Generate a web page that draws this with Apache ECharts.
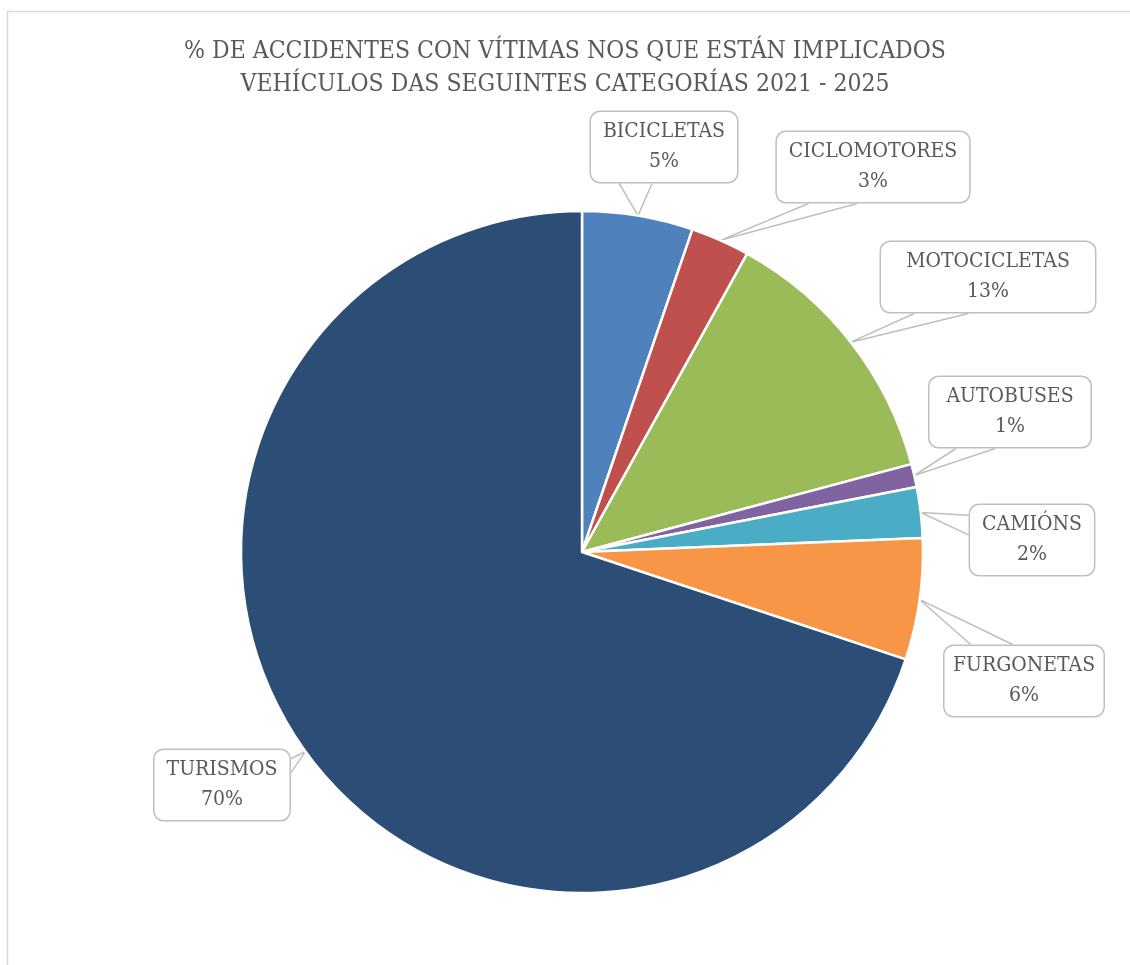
<!DOCTYPE html>
<html>
<head>
<meta charset="utf-8">
<script src="https://cdn.jsdelivr.net/npm/echarts@6/dist/echarts.min.js"></script>
<style>
html,body{margin:0;padding:0;background:#fff;}
#chart{width:1130px;height:965px;}
</style>
</head>
<body>
<div id="chart"></div>
<script>
const titleText = '% DE ACCIDENTES CON VÍTIMAS NOS QUE ESTÁN IMPLICADOS\nVEHÍCULOS DAS SEGUINTES CATEGORÍAS 2021 - 2025';
const categories = ['BICICLETAS', 'CICLOMOTORES', 'MOTOCICLETAS', 'AUTOBUSES', 'CAMIÓNS', 'FURGONETAS', 'TURISMOS'];
const values = [5.25, 2.8, 12.8, 1.1, 2.4, 5.75, 69.9];
const colors = ['#4F81BD', '#C0504D', '#9BBB59', '#8064A2', '#4BACC6', '#F79646', '#2C4D75'];
// label box centres and callout tail placement (layout/style only)
const labelPos = [[664, 147], [873, 167], [988, 277], [1010, 412], [1032, 540], [1024, 681], [222, 785]];
const tailSpec = [['bottom', 0.2, 0.42], ['bottom', 0.17, 0.42], ['bottom', 0.16, 0.41], ['bottom', 0.17, 0.41],
                  ['left', 0.16, 0.43], ['top', 0.17, 0.43], ['right', 0.14, 0.33]];

const FONT = '"DejaVu Serif Condensed", "Liberation Serif", serif';
const chart = echarts.init(document.getElementById('chart'));

function sectorTip(i, fallback) {
  try {
    const data = chart.getModel().getSeriesByIndex(0).getData();
    const l = data.getItemLayout(i);
    const mid = (l.startAngle + l.endAngle) / 2;
    return [l.cx + l.r * Math.cos(mid), l.cy + l.r * Math.sin(mid)];
  } catch (e) {
    return fallback;
  }
}

chart.setOption({
  animation: false,
  backgroundColor: '#ffffff',
  title: {
    text: titleText,
    left: 'center',
    top: 30,
    textStyle: { fontFamily: FONT, fontSize: 24.5, fontWeight: 'normal', color: '#595959', lineHeight: 33 }
  },
  graphic: [{
    type: 'rect',
    shape: { x: 7.5, y: 11.5, width: 1300, height: 1100 },
    style: { fill: null, stroke: '#D9D9D9', lineWidth: 1.5 },
    silent: true
  }],
  series: [{
    type: 'pie',
    center: [582, 552],
    radius: [0, 341],
    startAngle: 90,
    clockwise: true,
    percentPrecision: 0,
    data: categories.map((c, i) => ({ name: c, value: values[i], itemStyle: { color: colors[i] } })),
    itemStyle: { borderColor: '#ffffff', borderWidth: 2.5 },
    label: {
      show: true,
      position: 'outside',
      formatter: '{b}\n{d}%',
      fontFamily: FONT,
      fontSize: 21,
      lineHeight: 30,
      color: '#595959',
      backgroundColor: '#ffffff',
      borderColor: '#BFBFBF',
      borderWidth: 1.5,
      borderRadius: 9,
      padding: [6, 12, 4, 12],
      overflow: 'none'
    },
    labelLine: {
      show: true,
      lineStyle: { color: '#BFBFBF', width: 1.5 }
    },
    labelLayout: function (p) {
      const i = p.dataIndex;
      const pos = labelPos[i];
      const w = p.labelRect.width, h = p.labelRect.height;
      const x0 = pos[0] - w / 2, y0 = pos[1] - h / 2;
      const s = tailSpec[i];
      let a, b;
      if (s[0] === 'bottom') { a = [x0 + w * s[1], y0 + h]; b = [x0 + w * s[2], y0 + h]; }
      else if (s[0] === 'top') { a = [x0 + w * s[1], y0]; b = [x0 + w * s[2], y0]; }
      else if (s[0] === 'left') { a = [x0, y0 + h * s[1]]; b = [x0, y0 + h * s[2]]; }
      else { a = [x0 + w, y0 + h * s[1]]; b = [x0 + w, y0 + h * s[2]]; }
      const tip = sectorTip(i, p.labelLinePoints ? p.labelLinePoints[0] : a);
      return { x: pos[0], y: pos[1], align: 'center', verticalAlign: 'middle', labelLinePoints: [a, tip, b] };
    },
    emphasis: { disabled: true }
  }]
});
</script>
</body>
</html>
